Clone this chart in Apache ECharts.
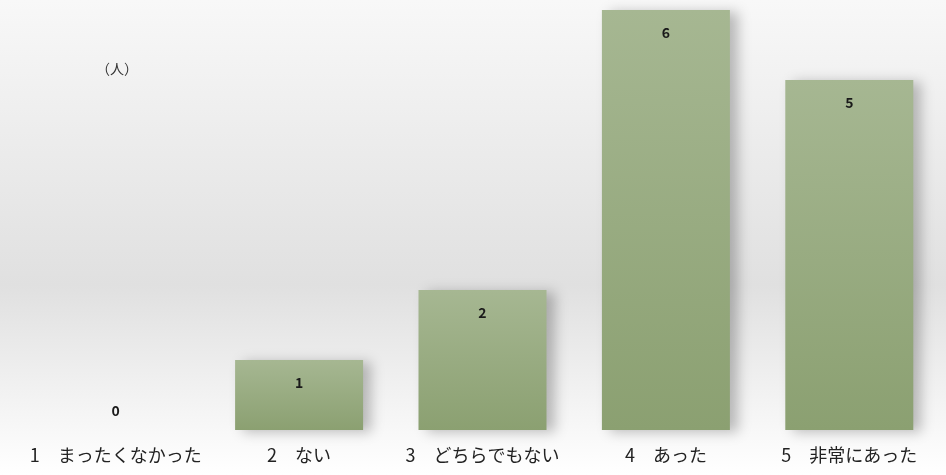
<!DOCTYPE html>
<html>
<head>
<meta charset="utf-8">
<script src="https://cdn.jsdelivr.net/npm/echarts@6/dist/echarts.min.js"></script>
<style>
  html, body { margin: 0; padding: 0; }
  #chart { width: 946px; height: 475px; }
</style>
</head>
<body>
<div id="chart"></div>
<script>
const categories = ['1　まったくなかった', '2　ない', '3　どちらでもない', '4　あった', '5　非常にあった'];
const counts = [0, 1, 2, 6, 5];
const unitLabel = '（人）';

const chart = echarts.init(document.getElementById('chart'));

const barColor = new echarts.graphic.LinearGradient(0, 0, 0, 1, [
  { offset: 0, color: '#a6b792' },
  { offset: 1, color: '#8ba071' }
]);

chart.setOption({
  backgroundColor: new echarts.graphic.LinearGradient(0, 0, 0, 1, [
    { offset: 0, color: '#f8f8f8' },
    { offset: 0.6, color: '#e0e0e0' },
    { offset: 1, color: '#ffffff' }
  ]),
  textStyle: { fontFamily: 'Noto Sans CJK JP' },
  grid: { left: 24, right: 5, top: 10, bottom: 45 },
  graphic: [{
    type: 'text',
    left: 96,
    top: 62,
    style: { text: unitLabel, fontSize: 14, fill: '#333', fontFamily: 'Noto Sans CJK JP' }
  }],
  xAxis: {
    type: 'category',
    data: categories,
    axisLine: { show: false },
    axisTick: { show: false },
    axisLabel: { fontSize: 18, color: '#222', margin: 16, interval: 0 }
  },
  yAxis: {
    type: 'value',
    min: 0,
    max: 6,
    show: false,
    splitLine: { show: false }
  },
  series: [{
    type: 'bar',
    barWidth: 128,
    data: counts.map(v => v === 0
      ? { value: v, label: { position: 'top', distance: 12 } }
      : { value: v }),
    itemStyle: {
      color: barColor,
      shadowColor: 'rgba(0,0,0,0.25)',
      shadowBlur: 12,
      shadowOffsetX: 8,
      shadowOffsetY: 2
    },
    label: {
      show: true,
      position: 'insideTop',
      distance: 16,
      fontSize: 14,
      fontWeight: 'bold',
      color: '#1a1a1a'
    }
  }]
});
</script>
</body>
</html>
